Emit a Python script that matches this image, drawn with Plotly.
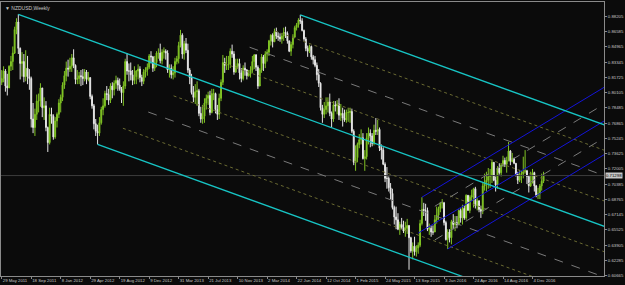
import plotly.graph_objects as go
import pandas as pd

# ---------------- DATA ----------------
start_date = "2011-05-29"
first_open = 0.8120
close = [
 0.8160,0.8240,0.8080,0.8060,0.8290,0.8340,0.8430,0.8680,0.8760,0.8480,
 0.8320,0.8340,0.8180,0.8270,0.8180,0.8160,0.7730,0.7640,0.7780,0.7920,
 0.7920,0.8060,0.7850,0.7870,0.7640,0.7480,0.7780,0.7760,0.7540,0.7710,
 0.7780,
 0.7900,0.7960,0.8090,0.8190,0.8270,0.8260,0.8290,0.8380,0.8300,0.8150,
 0.8160,0.8190,0.8180,0.8160,0.8230,0.8150,0.8170,0.7970,0.7870,0.7680,
 0.7600,0.7580,0.7690,0.7830,0.7870,0.8000,0.7990,0.7930,0.8080,0.8040,
 0.8110,0.8140,0.8090,0.8050,0.8010,0.8080,0.8340,0.8240,0.8240,0.8200,
 0.8140,0.8180,0.8240,0.8260,0.8170,0.8130,0.8230,0.8250,0.8280,0.8400,
 0.8390,0.8270,0.8330,
 0.8430,0.8430,0.8350,0.8440,0.8450,0.8430,0.8250,0.8270,0.8200,0.8220,
 0.8340,0.8370,0.8510,0.8620,0.8420,0.8530,0.8460,0.8250,0.8170,0.8010,
 0.7960,0.8020,0.8030,0.7790,0.7730,0.7760,0.7900,0.7950,0.7980,0.7800,
 0.8000,0.8000,0.7830,0.7780,0.7950,0.8120,0.8330,0.8300,0.8310,0.8310,
 0.8450,0.8420,0.8230,0.8290,0.8320,0.8220,0.8160,0.8270,0.8250,0.8190,
 0.8210,0.8250,
 0.8340,0.8410,0.8280,0.8080,0.8250,0.8390,0.8320,0.8420,0.8440,0.8560,
 0.8620,0.8550,0.8660,0.8610,0.8600,0.8580,0.8610,0.8650,0.8640,0.8560,
 0.8450,0.8520,0.8600,0.8700,0.8730,0.8780,0.8770,0.8670,0.8580,0.8480,
 0.8450,0.8500,0.8390,0.8360,0.8300,0.8200,0.8110,0.7850,0.7780,0.7830,
 0.7870,0.7910,0.7790,0.7730,0.7880,0.7870,0.7890,0.7770,0.7790,0.7740,
 0.7720,0.7800,
 0.7800,0.7810,0.7600,0.7270,0.7320,0.7460,0.7510,0.7530,0.7310,0.7330,
 0.7530,0.7580,0.7550,0.7470,0.7610,0.7600,0.7620,0.7420,0.7400,0.7250,
 0.7100,0.7100,0.7000,0.6940,0.6790,0.6690,0.6660,0.6560,0.6610,0.6580,
 0.6540,0.6570,0.6600,0.6470,0.6330,0.6380,0.6320,0.6360,0.6390,0.6620,
 0.6770,0.6760,0.6760,0.6560,0.6570,0.6530,0.6530,0.6660,0.6710,0.6780,
 0.6840,0.6840,
 0.6630,0.6450,0.6530,0.6470,0.6640,0.6610,0.6630,0.6610,0.6760,0.6680,
 0.6780,0.6680,0.6920,0.6760,0.6900,0.6920,0.6990,0.6810,0.6860,0.6770,
 0.6750,0.7020,0.7060,0.7080,0.7120,0.7130,0.7270,0.7080,0.7030,0.7210,
 0.7160,0.7240,0.7290,0.7250,0.7290,0.7390,0.7280,0.7310,0.7260,0.7140,
 0.7080,0.7140,0.7150,0.7170,0.7180,0.7120,0.7020,0.7050,0.7160,0.7020,
 0.6920,0.6940,
 0.7020,0.7070,0.7130,
]
high = [
 0.8250,0.8290,0.8260,0.8210,0.8300,0.8400,0.8500,0.8710,0.8800,0.8842,
 0.8490,0.8440,0.8420,0.8460,0.8400,0.8260,0.8180,0.7900,0.7840,0.7990,
 0.8000,0.8110,0.8060,0.7960,0.7920,0.7650,0.7850,0.7850,0.7780,0.7750,
 0.7800,
 0.7940,0.7990,0.8120,0.8240,0.8340,0.8360,0.8380,0.8420,0.8470,0.8310,
 0.8250,0.8230,0.8250,0.8260,0.8260,0.8250,0.8230,0.8170,0.7990,0.7890,
 0.7730,0.7670,0.7750,0.7860,0.7950,0.8030,0.8080,0.8050,0.8110,0.8120,
 0.8140,0.8190,0.8170,0.8160,0.8070,0.8130,0.8370,0.8430,0.8320,0.8330,
 0.8250,0.8290,0.8250,0.8310,0.8290,0.8200,0.8260,0.8280,0.8320,0.8420,
 0.8450,0.8400,0.8400,
 0.8450,0.8480,0.8530,0.8470,0.8490,0.8470,0.8460,0.8310,0.8310,0.8290,
 0.8380,0.8400,0.8550,0.8676,0.8640,0.8560,0.8590,0.8530,0.8270,0.8210,
 0.8080,0.8100,0.8130,0.8050,0.7860,0.7880,0.7950,0.7990,0.8020,0.8030,
 0.8050,0.8050,0.8010,0.7880,0.8000,0.8150,0.8410,0.8380,0.8400,0.8400,
 0.8480,0.8520,0.8450,0.8370,0.8370,0.8370,0.8270,0.8300,0.8330,0.8260,
 0.8250,0.8290,
 0.8400,0.8420,0.8420,0.8300,0.8270,0.8420,0.8410,0.8450,0.8470,0.8570,
 0.8630,0.8640,0.8690,0.8700,0.8650,0.8640,0.8640,0.8700,0.8710,0.8660,
 0.8560,0.8550,0.8630,0.8720,0.8750,0.8800,0.8836,0.8800,0.8680,0.8600,
 0.8510,0.8520,0.8510,0.8410,0.8400,0.8330,0.8260,0.8120,0.7880,0.7910,
 0.7960,0.7960,0.8000,0.7810,0.7920,0.7920,0.7930,0.7950,0.7890,0.7850,
 0.7830,0.7830,
 0.7850,0.7850,0.7840,0.7620,0.7450,0.7480,0.7570,0.7620,0.7580,0.7400,
 0.7580,0.7640,0.7620,0.7580,0.7670,0.7740,0.7720,0.7640,0.7460,0.7430,
 0.7270,0.7220,0.7120,0.7050,0.6990,0.6810,0.6800,0.6730,0.6640,0.6680,
 0.6650,0.6640,0.6670,0.6600,0.6480,0.6420,0.6480,0.6390,0.6420,0.6660,
 0.6900,0.6840,0.6830,0.6790,0.6620,0.6600,0.6600,0.6710,0.6800,0.6800,
 0.6850,0.6880,
 0.6850,0.6650,0.6560,0.6560,0.6660,0.6720,0.6700,0.6700,0.6770,0.6780,
 0.6820,0.6810,0.6930,0.6920,0.6920,0.6980,0.7000,0.7010,0.6890,0.6870,
 0.6810,0.7050,0.7150,0.7170,0.7210,0.7200,0.7300,0.7270,0.7120,0.7230,
 0.7260,0.7260,0.7340,0.7320,0.7330,0.7485,0.7400,0.7370,0.7320,0.7260,
 0.7170,0.7190,0.7180,0.7330,0.7400,0.7190,0.7130,0.7170,0.7200,0.7170,
 0.7030,0.7000,
 0.7040,0.7150,0.7170,
]
low = [
 0.8090,0.8120,0.8020,0.7980,0.8060,0.8240,0.8250,0.8420,0.8630,0.8420,
 0.8150,0.8180,0.8120,0.8130,0.8100,0.8040,0.7640,0.7580,0.7550,0.7720,
 0.7800,0.7860,0.7750,0.7720,0.7600,0.7380,0.7460,0.7680,0.7510,0.7520,
 0.7640,
 0.7740,0.7800,0.7920,0.8050,0.8130,0.8180,0.8230,0.8230,0.8270,0.8100,
 0.8100,0.8100,0.8080,0.8090,0.8130,0.8100,0.8130,0.7940,0.7840,0.7620,
 0.7550,0.7460,0.7550,0.7670,0.7770,0.7850,0.7930,0.7880,0.7900,0.7950,
 0.7980,0.8050,0.8030,0.8030,0.7900,0.7870,0.8050,0.8200,0.8130,0.8140,
 0.8090,0.8100,0.8100,0.8150,0.8120,0.8080,0.8100,0.8170,0.8190,0.8260,
 0.8320,0.8230,0.8240,
 0.8280,0.8370,0.8320,0.8310,0.8370,0.8360,0.8220,0.8170,0.8160,0.8150,
 0.8170,0.8310,0.8320,0.8490,0.8370,0.8360,0.8430,0.8220,0.8100,0.7990,
 0.7910,0.7890,0.7870,0.7760,0.7690,0.7680,0.7690,0.7830,0.7880,0.7770,
 0.7790,0.7930,0.7790,0.7720,0.7730,0.7920,0.8090,0.8220,0.8250,0.8250,
 0.8270,0.8380,0.8200,0.8220,0.8260,0.8150,0.8120,0.8140,0.8190,0.8150,
 0.8180,0.8170,
 0.8220,0.8260,0.8240,0.8050,0.8100,0.8220,0.8240,0.8270,0.8340,0.8400,
 0.8510,0.8490,0.8550,0.8580,0.8560,0.8550,0.8530,0.8560,0.8590,0.8530,
 0.8440,0.8400,0.8480,0.8590,0.8670,0.8700,0.8740,0.8660,0.8560,0.8450,
 0.8390,0.8430,0.8360,0.8310,0.8280,0.8140,0.8070,0.7820,0.7690,0.7740,
 0.7780,0.7800,0.7760,0.7640,0.7700,0.7810,0.7780,0.7720,0.7710,0.7650,
 0.7700,0.7690,
 0.7700,0.7690,0.7580,0.7240,0.7180,0.7270,0.7420,0.7460,0.7300,0.7180,
 0.7300,0.7460,0.7430,0.7440,0.7450,0.7560,0.7560,0.7390,0.7300,0.7240,
 0.7060,0.6990,0.6960,0.6880,0.6770,0.6610,0.6560,0.6550,0.6500,0.6560,
 0.6520,0.6480,0.6510,0.6130,0.6310,0.6240,0.6280,0.6270,0.6300,0.6370,
 0.6600,0.6700,0.6650,0.6540,0.6500,0.6480,0.6500,0.6530,0.6620,0.6660,
 0.6740,0.6780,
 0.6600,0.6440,0.6350,0.6420,0.6400,0.6560,0.6540,0.6570,0.6600,0.6630,
 0.6610,0.6660,0.6660,0.6760,0.6730,0.6860,0.6790,0.6780,0.6760,0.6740,
 0.6680,0.6720,0.6970,0.6960,0.6990,0.7000,0.7050,0.7070,0.6960,0.6990,
 0.7140,0.7120,0.7220,0.7220,0.7160,0.7280,0.7240,0.7270,0.7250,0.7120,
 0.7040,0.7060,0.7050,0.7100,0.7150,0.7040,0.6950,0.7010,0.7070,0.6960,
 0.6900,0.6880,
 0.6880,0.6970,0.7050,
]
y_tick_labels = ["0.60665","0.62285","0.63905","0.65525","0.67145","0.68765",
                 "0.70385","0.72005","0.73625","0.75245","0.76865","0.78485",
                 "0.80105","0.81725","0.83345","0.84965","0.86585","0.88205"]
current_price = 0.71298
title_text = "NZDUSD,Weekly"

# pitchfork anchors (bar index, price)
pf_a = (9, 0.8842)
pf_b = (162, 0.8836)
pf_c = (52, 0.7460)
# ascending blue channel anchors
bc_b = (228, 0.6900)
bc_c = (242, 0.6350)
bc_slope = 0.00118   # price per bar
bc_mid_start = 226

# ---------------- BUILD ----------------
n = len(close)
idx = list(range(n))
dates = pd.date_range(start_date, periods=n, freq="7D")
opn = [first_open] + close[:-1]

X_MIN, X_MAX = -0.4, 326.8
Y_MIN, Y_MAX = 0.60633, 0.89723

BG = "#0b0b0b"
CYAN = "#17c4c4"
BLUE = "#1414d8"
OLIVE = "#6a6a32"
GRAY = "#7a7a7a"
FONT = "Liberation Sans"

fig = go.Figure()

def seg(x0, y0, slope, color, width=1, dash="solid"):
    xs = [x0, X_MAX + 5]
    ys = [y0, y0 + slope * (X_MAX + 5 - x0)]
    fig.add_trace(go.Scatter(x=xs, y=ys, mode="lines",
                             line=dict(color=color, width=width, dash=dash),
                             hoverinfo="skip", showlegend=False))

# current price line
fig.add_trace(go.Scatter(x=[X_MIN, X_MAX], y=[current_price, current_price], mode="lines",
                         line=dict(color="#3c3c3c", width=1), hoverinfo="skip", showlegend=False))

# Andrews pitchfork
mx = (pf_b[0] + pf_c[0]) / 2
my = (pf_b[1] + pf_c[1]) / 2
m = (my - pf_a[1]) / (mx - pf_a[0])
for handle in (pf_b, pf_c):
    for f, col, dsh in ((0.25, OLIVE, "dot"), (0.5, GRAY, "dash"), (0.75, OLIVE, "dot")):
        sx = mx + f * (handle[0] - mx)
        sy = my + f * (handle[1] - my)
        seg(sx, sy, m, col, 1, dsh)

# blue ascending channel
def bmid_y_at(x):
    return ((bc_b[1] + bc_slope * (x - bc_b[0])) + (bc_c[1] + bc_slope * (x - bc_c[0]))) / 2
bm_y = bmid_y_at(bc_mid_start)
for handle in (bc_b, bc_c):
    hy = handle[1] + bc_slope * (bc_mid_start + 9 - handle[0])
    my2 = bmid_y_at(bc_mid_start + 9)
    seg(bc_mid_start + 9, (hy + my2) / 2, bc_slope, GRAY, 1, "dash")
seg(bc_b[0], bc_b[1], bc_slope, BLUE, 1)
seg(bc_c[0], bc_c[1], bc_slope, BLUE, 1)
seg(bc_mid_start, bm_y, bc_slope, BLUE, 1)

# pitchfork main lines
seg(pf_a[0], pf_a[1], m, CYAN, 1.3)
seg(pf_b[0], pf_b[1], m, CYAN, 1.3)
seg(pf_c[0], pf_c[1], m, CYAN, 1.3)

fig.add_trace(go.Candlestick(
    x=idx, open=opn, high=high, low=low, close=close,
    increasing=dict(line=dict(color="#80c424", width=1), fillcolor="#8cd02c"),
    decreasing=dict(line=dict(color="#e6e6e6", width=1), fillcolor="#ffffff"),
    whiskerwidth=0, hoverinfo="skip", showlegend=False))

tickvals_x = list(range(0, n, 16))
ticktext_x = [f"{dates[i].day} {dates[i].strftime('%b %Y')}" for i in tickvals_x]

fig.update_layout(
    width=625, height=285,
    margin=dict(l=1, r=21, t=2, b=9),
    paper_bgcolor=BG, plot_bgcolor=BG,
    showlegend=False,
    hovermode=False,
    xaxis=dict(range=[X_MIN, X_MAX], rangeslider=dict(visible=False),
               tickmode="array", tickvals=tickvals_x, ticktext=ticktext_x,
               tickangle=0, automargin=False,
               ticks="outside", ticklen=2, tickcolor="#8a8a8a",
               ticklabelposition="outside right",
               tickfont=dict(family=FONT, size=4.3, color="#c8c8c8"),
               showgrid=False, zeroline=False,
               showline=True, linecolor="#8a8a8a", linewidth=1, mirror=True),
    yaxis=dict(range=[Y_MIN, Y_MAX], side="right", automargin=False,
               tickmode="array", tickvals=[float(v) for v in y_tick_labels], ticktext=y_tick_labels,
               ticks="outside", ticklen=2, tickcolor="#8a8a8a",
               tickfont=dict(family=FONT, size=4.3, color="#c8c8c8"),
               showgrid=False, zeroline=False,
               showline=True, linecolor="#8a8a8a", linewidth=1, mirror=True),
    annotations=[
        dict(text="▼ " + title_text, xref="paper", yref="paper", x=0.004, y=0.995,
             xanchor="left", yanchor="top", showarrow=False,
             font=dict(family=FONT, size=5, color="#c8c8c8")),
        dict(text=f"{current_price:.5f}", xref="paper", yref="y", x=1.0, y=current_price,
             xanchor="left", yanchor="middle", showarrow=False, bgcolor="#c8c8c8",
             borderpad=0, xshift=1,
             font=dict(family=FONT, size=4.3, color="#000000")),
    ],
)

fig.write_html("out.html")
